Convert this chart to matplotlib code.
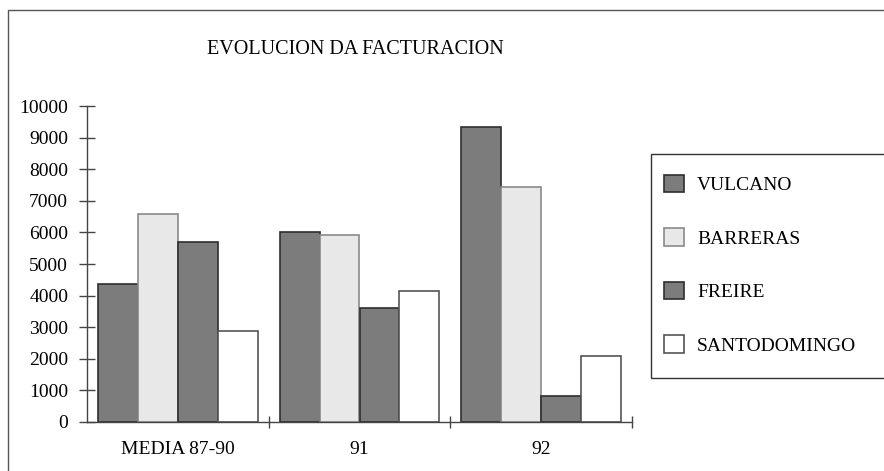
import numpy as np
import matplotlib.pyplot as plt
from matplotlib.patches import Rectangle

plt.rcParams['font.family'] = ['Liberation Serif', 'DejaVu Serif']

groups = ['MEDIA 87-90', '91', '92']
series = ['VULCANO', 'BARRERAS', 'FREIRE', 'SANTODOMINGO']
vulcano = [4370, 6020, 9330]
barreras = [6580, 5910, 7450]
freire = [5700, 3600, 820]
santodomingo = [2880, 4150, 2100]
yticks = np.arange(0, 10001, 1000)

values = [vulcano, barreras, freire, santodomingo]
faces = ['#7c7c7c', '#e8e8e8', '#7c7c7c', '#ffffff']
edges = ['#2e2e2e', '#8a8a8a', '#2e2e2e', '#555555']

fig = plt.figure(figsize=(8.84, 4.71), dpi=100)
ax = fig.add_axes([87/884, 1-422/471, (632-87)/884, (422-106)/471])

x = np.arange(len(groups))
w = 0.22
for i, (vals, name) in enumerate(zip(values, series)):
    ax.bar(x + (i - 1.5)*w, vals, w, color=faces[i], edgecolor=edges[i],
           linewidth=1.2, label=name)

ax.set_xlim(-0.5, 2.5)
ax.set_ylim(0, 10000)
ax.set_yticks(yticks)
ax.set_xticks(x)
ax.set_xticklabels(groups)
ax.set_xticks([0.5, 1.5, 2.5], minor=True)
ax.tick_params(axis='x', which='major', length=0, pad=14, labelsize=14)
ax.tick_params(axis='x', which='minor', direction='inout', length=9,
               width=1, color='#444444')
ax.tick_params(axis='y', direction='inout', length=11, width=1,
               color='#444444', pad=8, labelsize=14)
for s in ['top', 'right']:
    ax.spines[s].set_visible(False)
for s in ['left', 'bottom']:
    ax.spines[s].set_color('#444444')
    ax.spines[s].set_linewidth(1)

# outer frame and legend box
fig.patches.append(Rectangle((8/884, -0.01), 1.0, 1-10/471+0.01,
                             transform=fig.transFigure, fill=False,
                             edgecolor='#555555', linewidth=1))
fig.patches.append(Rectangle((651/884, 1-378/471), 1.0, (378-154)/471,
                             transform=fig.transFigure, fill=False,
                             edgecolor='#333333', linewidth=1))

fig.text(355/884, 1-49/471, 'EVOLUCION DA FACTURACION', ha='center',
         va='center', fontsize=14.5)

fig.legend(loc='upper left', bbox_to_anchor=(664/884, 1-175/471),
           frameon=False, fontsize=14, borderpad=0, borderaxespad=0,
           handlelength=1.05, handleheight=1.0, labelspacing=1.75,
           handletextpad=0.65)

fig.savefig('out.png', dpi=100)
